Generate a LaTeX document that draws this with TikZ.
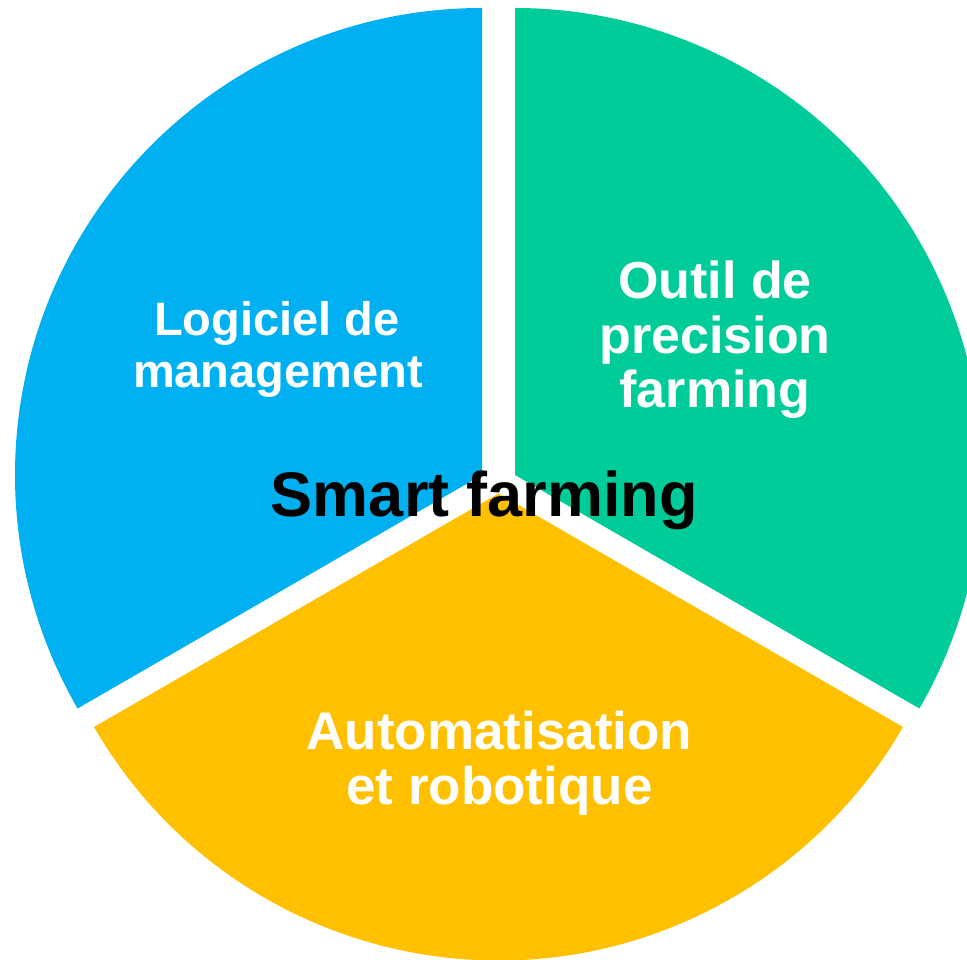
\documentclass[tikz,border=0pt]{standalone}
\usepackage{fontspec}
\setmainfont{Liberation Sans}
\definecolor{segblue}{HTML}{00B0F0}
\definecolor{seggreen}{HTML}{00CC99}
\definecolor{segyellow}{HTML}{FFC000}
\begin{document}
\begin{tikzpicture}[x=1pt,y=1pt,
  seglabel/.style={anchor=base,inner sep=0pt,text=white},
  bluelabel/.style={seglabel,font=\bfseries\fontsize{47}{51}\selectfont},
  greenlabel/.style={seglabel,font=\bfseries\fontsize{52}{54}\selectfont},
  yellowlabel/.style={seglabel,font=\bfseries\fontsize{53}{54}\selectfont},
  title/.style={anchor=base,inner sep=0pt,text=black,font=\bfseries\fontsize{63}{66}\selectfont}]
\useasboundingbox (0,0) rectangle (967,959);
\clip (0,0) rectangle (967,959);
% exploded pie: three 120-degree sectors
\coordinate (cb) at (482,484);
\coordinate (cg) at (515,484);
\coordinate (cy) at (498.5,465.5);
\fill[segblue] (cb) -- ++(90:467pt) arc[start angle=90,end angle=210,radius=467pt] -- cycle;
\fill[seggreen] (cg) -- ++(-30:467pt) arc[start angle=-30,end angle=90,radius=467pt] -- cycle;
\fill[segyellow] (cy) -- ++(210:467pt) arc[start angle=210,end angle=330,radius=467pt] -- cycle;
% sector labels
\node[bluelabel] (b1) at (277,623) {Logiciel de};
\node[bluelabel] (b2) at (278,571) {management};
\node[greenlabel] (g1) at (715,660) {Outil de};
\node[greenlabel] (g2) at (715,605) {precision};
\node[greenlabel] (g3) at (715,551) {farming};
\node[yellowlabel] (y1) at (499.5,209) {Automatisation};
\node[yellowlabel] (y2) at (499.5,154) {et robotique};
\node[title] (t) at (484.5,442) {Smart farming};
\end{tikzpicture}
\end{document}
